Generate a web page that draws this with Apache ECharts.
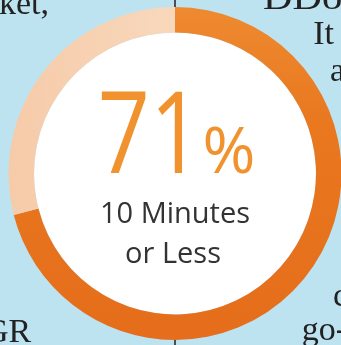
<!DOCTYPE html>
<html>
<head>
<meta charset="utf-8">
<script src="https://cdn.jsdelivr.net/npm/echarts@6/dist/echarts.min.js"></script>
<style>
html,body{margin:0;padding:0;background:#BDE3F1;}
#c{width:341px;height:345px;}
</style>
</head>
<body>
<div id="c"></div>
<script>
const categories = ['10 Minutes or Less', 'More than 10 Minutes'];
const values = [71, 29];
const bigLabel = '71';
const unitLabel = '%';
const captionLines = ['10 Minutes', 'or Less'];
const bgFragments = ['ket,', 'DDo', 'It', 'a', 'GR', 'c', 'go-'];

const chart = echarts.init(document.getElementById('c'), null, {renderer: 'canvas'});
const serif = '"Liberation Serif", "DejaVu Serif", serif';
const sans = '"Open Sans", "Noto Sans", sans-serif';
const fragPos = [[-1, 22, 'left'], [263, 17, 'left'], [334, 52, 'right'], [345, 89, 'right'], [-16, 350, 'left'], [348, 314, 'right'], [347, 348, 'right']];

chart.setOption({
  backgroundColor: '#BDE3F1',
  animation: false,
  graphic: [
    ...bgFragments.map((t, i) => ({
      type: 'text', x: fragPos[i][0], y: fragPos[i][1], z: 0,
      scaleX: i === 1 ? 1.2 : 1, originX: 0,
      style: {text: t, fill: '#222', font: '34px ' + serif, textAlign: fragPos[i][2], textVerticalAlign: 'bottom'}
    })),
    {type: 'line', z: 0, shape: {x1: 175, y1: 0, x2: 175, y2: 10}, style: {stroke: '#4a4f55', lineWidth: 2}},
    {type: 'line', z: 0, shape: {x1: 175, y1: 336, x2: 175, y2: 345}, style: {stroke: '#4a4f55', lineWidth: 2}},
    {type: 'text', z: 100, x: 150, y: 141, scaleX: 0.8, originX: 0,
      style: {text: bigLabel, fill: '#F0932F', font: '114px ' + sans, textAlign: 'center', textVerticalAlign: 'middle'}},
    {type: 'text', z: 100, x: 229, y: 155,
      style: {text: unitLabel, fill: '#F0932F', font: '64px ' + sans, textAlign: 'center', textVerticalAlign: 'middle'}},
    {type: 'text', z: 100, x: 175, y: 215,
      style: {text: captionLines[0], fill: '#333', font: '29px ' + sans, textAlign: 'center', textVerticalAlign: 'middle'}},
    {type: 'text', z: 100, x: 173, y: 255,
      style: {text: captionLines[1], fill: '#333', font: '29px ' + sans, textAlign: 'center', textVerticalAlign: 'middle'}}
  ],
  series: [
    {
      type: 'pie', z: 2, center: [175, 173.5], radius: [0, 141], silent: true,
      label: {show: false}, labelLine: {show: false},
      data: [{value: 1, itemStyle: {color: '#ffffff'}}]
    },
    {
      type: 'pie', z: 3, center: [175, 173.5], radius: [141, 166.5], startAngle: 90, clockwise: true,
      silent: true, label: {show: false}, labelLine: {show: false},
      itemStyle: {borderWidth: 0},
      data: categories.map((c, i) => ({
        name: c, value: values[i],
        itemStyle: {color: i === 0
          ? new echarts.graphic.LinearGradient(0, 0, 0, 1, [{offset: 0, color: '#EE8A30'}, {offset: 0.35, color: '#E9781F'}, {offset: 1, color: '#E56D1B'}])
          : new echarts.graphic.LinearGradient(0, 0, 1, 0, [{offset: 0, color: '#F6CBA9'}, {offset: 1, color: '#F8D8BC'}])}
      }))
    }
  ]
});
</script>
</body>
</html>
